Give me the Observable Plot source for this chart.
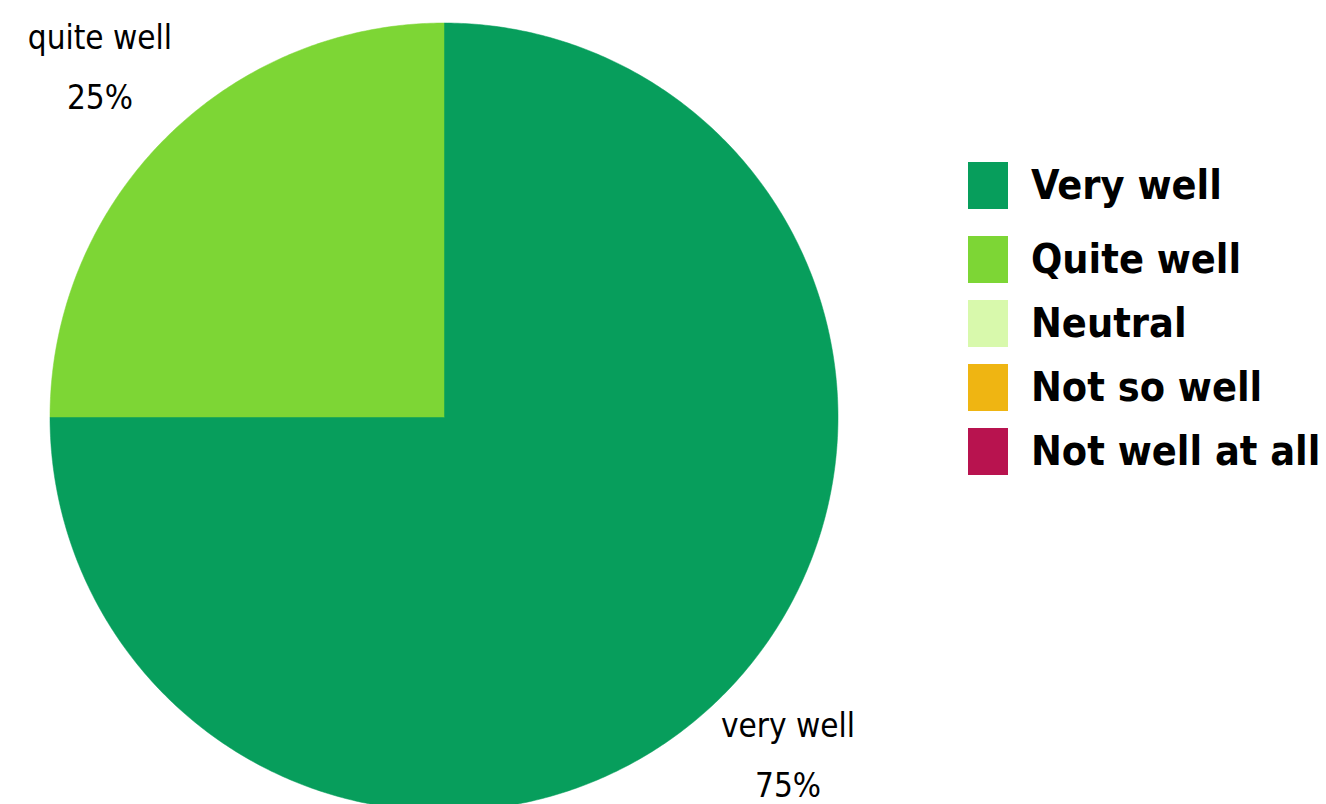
<!DOCTYPE html>
<html>
<head>
<meta charset="utf-8">
<script src="https://cdn.jsdelivr.net/npm/d3@7"></script>
<script src="https://cdn.jsdelivr.net/npm/@observablehq/plot@0.6"></script>
<style>
  html, body { margin: 0; padding: 0; background: #fff; overflow: hidden; }
  #wrap { position: relative; width: 1326px; height: 804px; }
  #legend { position: absolute; left: 968px; top: 162px; font-family: "Liberation Sans Narrow", "DejaVu Sans Condensed", "Liberation Sans", sans-serif; font-weight: bold; font-size: 41px; line-height: 1; color: #000; }
  .row { display: flex; align-items: center; height: 47px; margin-bottom: 17px; white-space: nowrap; }
  .row:first-child { margin-bottom: 27px; }
  .sw { width: 40px; height: 47px; margin-right: 23px; flex: none; }
</style>
</head>
<body>
<div id="wrap"><div id="chart"></div><div id="legend"></div></div>
<script>
const categories = ["Very well", "Quite well", "Neutral", "Not so well", "Not well at all"];
const sliceLabels = ["very well", "quite well", "neutral", "not so well", "not well at all"];
const values = [75, 25, 0, 0, 0];
const colors = ["#079E5C", "#7DD635", "#D8F9AC", "#EFB512", "#B8134F"];

const arcs = d3.pie().sort(null).value(d => d)(values);

// Build slice polygons (unit circle, y up) from the pie angles
const marks = [];
const labelRows = [];
arcs.forEach((a, i) => {
  if (a.endAngle - a.startAngle <= 0) return;
  const pts = [{x: 0, y: 0}];
  const n = Math.max(2, Math.ceil((a.endAngle - a.startAngle) / (Math.PI / 360)));
  for (let k = 0; k <= n; k++) {
    const t = a.startAngle + (a.endAngle - a.startAngle) * k / n;
    pts.push({x: Math.sin(t), y: Math.cos(t)});
  }
  pts.push({x: 0, y: 0});
  marks.push(Plot.line(pts, {x: "x", y: "y", fill: colors[i], stroke: colors[i], strokeWidth: 0.5, curve: "linear"}));
  const mid = (a.startAngle + a.endAngle) / 2;
  const rr = 1.235;
  labelRows.push({x: Math.sin(mid) * rr, y: Math.cos(mid) * rr, text: sliceLabels[i] + "\n" + Math.round(values[i] / d3.sum(values) * 100) + "%"});
});

marks.push(Plot.text(labelRows, {
  x: "x", y: "y", text: "text", textAnchor: "middle", lineAnchor: "middle",
  fontSize: 33, lineHeight: 1.8, dy: -13, fill: "#000",
  fontFamily: "'Liberation Sans Narrow', 'DejaVu Sans Condensed', sans-serif"
}));

const chart = Plot.plot({
  width: 1326,
  height: 804,
  margin: 0,
  x: {domain: [-1, 1], range: [49.5, 837.5], axis: null},
  y: {domain: [-1, 1], range: [810.5, 22.5], axis: null},
  style: {background: "transparent", overflow: "hidden"},
  marks
});
document.getElementById("chart").appendChild(chart);

const legend = document.getElementById("legend");
categories.forEach((c, i) => {
  const row = document.createElement("div");
  row.className = "row";
  const sw = document.createElement("div");
  sw.className = "sw";
  sw.style.background = colors[i];
  const tx = document.createElement("span");
  tx.textContent = c;
  row.appendChild(sw);
  row.appendChild(tx);
  legend.appendChild(row);
});
</script>
</body>
</html>
